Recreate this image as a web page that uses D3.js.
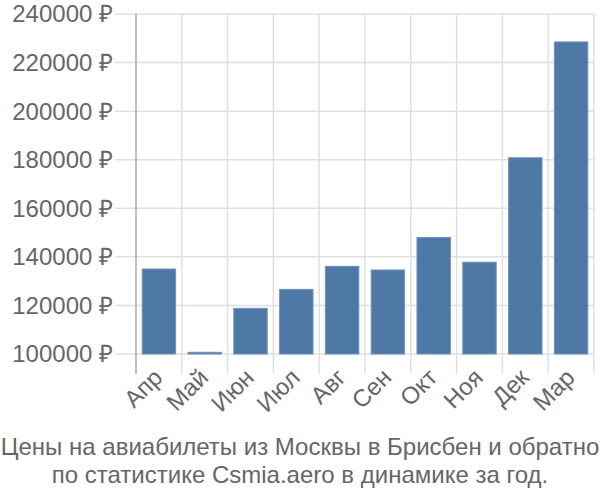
<!DOCTYPE html>
<html><head><meta charset="utf-8">
<script src="https://cdn.jsdelivr.net/npm/d3@7"></script>
<style>body{margin:0;background:#fff}svg{display:block;font-family:"Liberation Sans",Arial,sans-serif}</style>
</head><body>
<svg id="c" width="600" height="500"></svg>
<script>
const categories = ["Апр","Май","Июн","Июл","Авг","Сен","Окт","Ноя","Дек","Мар"];
const values = [135000,100700,118800,126600,136100,134600,148000,137800,180800,228500];
const yTicks = [100000,120000,140000,160000,180000,200000,220000,240000];
const titleLines = ["Цены на авиабилеты из Москвы в Брисбен и обратно","по статистике Csmia.aero в динамике за год."];

const svg = d3.select("#c");
const L = 136, R = 594, T = 14, B = 354, tickBottom = 374;
const x = d3.scaleBand().domain(categories).range([L, R]).paddingInner(0.27).paddingOuter(0.135);
const y = d3.scaleLinear().domain([100000, 240000]).range([B, T]);
const step = (R - L) / categories.length;

// horizontal gridlines
svg.append("g").selectAll("line").data(yTicks).join("line")
  .attr("x1", 115).attr("x2", R).attr("y1", d => y(d)).attr("y2", d => y(d))
  .attr("stroke", "#e0e0e0").attr("stroke-width", 1.5);
// vertical gridlines
svg.append("g").selectAll("line").data(d3.range(1, categories.length + 1)).join("line")
  .attr("x1", i => L + i * step).attr("x2", i => L + i * step).attr("y1", T).attr("y2", tickBottom)
  .attr("stroke", "#e0e0e0").attr("stroke-width", 1.5);
// y axis line
svg.append("line").attr("x1", L).attr("x2", L).attr("y1", T).attr("y2", tickBottom)
  .attr("stroke", "#aaa").attr("stroke-width", 1.5);

// y labels
svg.append("g").selectAll("text").data(yTicks).join("text")
  .attr("x", 113).attr("y", d => y(d)).attr("dy", "0.35em").attr("text-anchor", "end")
  .attr("font-size", 24).attr("fill", "#666").text(d => d + " ₽");

// bars
svg.append("g").selectAll("rect").data(values).join("rect")
  .attr("x", (d, i) => x(categories[i])).attr("width", x.bandwidth())
  .attr("y", d => y(d)).attr("height", d => y(100000) - y(d))
  .attr("fill", "#4e78a5").attr("stroke", "#6f93bd").attr("stroke-width", 1);

// x labels
svg.append("g").selectAll("text").data(categories).join("text")
  .attr("transform", d => `translate(${x(d) + x.bandwidth() / 2 + 5},${tickBottom + 5}) rotate(-45)`)
  .attr("text-anchor", "end").attr("font-size", 24).attr("fill", "#666").text(d => d);

// title
svg.append("g").selectAll("text").data(titleLines).join("text")
  .attr("x", 300).attr("y", (d, i) => 455 + i * 28).attr("text-anchor", "middle")
  .attr("font-size", 24).attr("fill", "#666").text(d => d);
</script>
</body></html>
